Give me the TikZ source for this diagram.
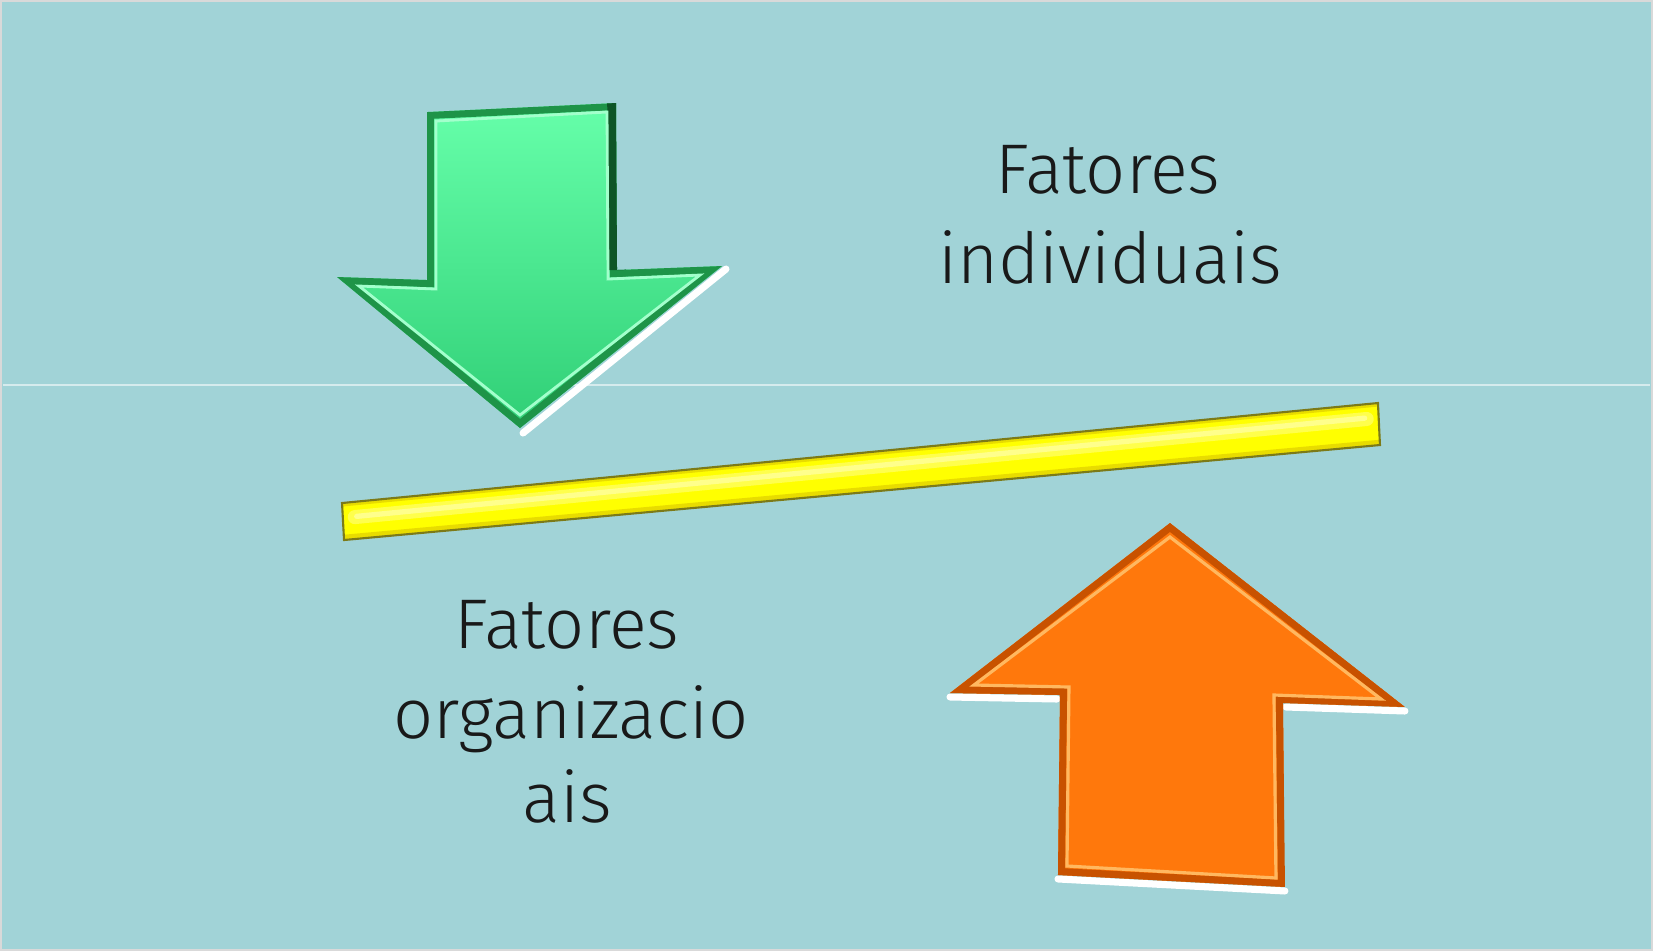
\documentclass[tikz,border=0pt]{standalone}
\usepackage{fontspec}
\setmainfont{Fira Sans}[UprightFont={* Light}]
\usetikzlibrary{positioning,calc}

\definecolor{bgteal}{HTML}{A1D3D7}
\definecolor{greentop}{HTML}{66FFAA}
\definecolor{greenbot}{HTML}{30CF76}
\definecolor{greenedge}{HTML}{1E9448}
\definecolor{greendark}{HTML}{0E5526}
\definecolor{orangefill}{HTML}{FF780C}
\definecolor{orangeedge}{HTML}{C85200}
\definecolor{orangelight}{HTML}{FFB860}
\definecolor{barfill}{HTML}{FFFF00}
\definecolor{bardeep}{HTML}{E8DC00}
\definecolor{baredge}{HTML}{7C7A18}

\begin{document}
\begin{tikzpicture}[x=0.01cm,y=-0.01cm,
    every node/.style = {inner sep=0pt,outer sep=0pt},
    labeltext/.style = {anchor=base,font=\fontsize{20}{24}\selectfont,text=black!90},
    bevel/.style = {line join=miter,line width=4pt},
    glint/.style = {white,line width=1.2pt,line cap=round},
    ]
    % background
    \fill[bgteal] (0,0) rectangle (1653,951);
    \draw[white!70!gray,line width=0.6pt] (1,1) rectangle (1652,950);
    \draw[white!55!bgteal,line width=0.5pt] (3,385) -- (1650,385);
    \useasboundingbox (0,0) rectangle (1653,951);

    % green arrow (down)
    \coordinate (g-tl) at (427,112);
    \coordinate (g-tr) at (616,103);
    \coordinate (g-sr) at (617,270);
    \coordinate (g-hr) at (722,266);
    \coordinate (g-tip) at (520,428);
    \coordinate (g-hl) at (337,277);
    \coordinate (g-sl) at (427,280);
    \draw[glint,line width=2pt] ($(g-hr)+(4,3)$) -- ($(g-tip)+(3,5)$);
    \begin{scope}
        \clip (g-tl) -- (g-tr) -- (g-sr) -- (g-hr) -- (g-tip) -- (g-hl) -- (g-sl) -- cycle;
        \shade[top color=greentop,bottom color=greenbot]
            (g-tl) -- (g-tr) -- (g-sr) -- (g-hr) -- (g-tip) -- (g-hl) -- (g-sl) -- cycle;
        \draw[bevel,greenedge]
            (g-tl) -- (g-tr) -- (g-sr) -- (g-hr) -- (g-tip) -- (g-hl) -- (g-sl) -- cycle;
        \draw[bevel,greendark,line width=5pt] (g-tr) -- (g-sr);
        \draw[greentop!60!white,line width=0.8pt,line join=miter]
            ($(g-tl)+(9,9)$) -- ($(g-tr)+(-9,9)$) -- ($(g-sr)+(-9,9)$) -- ($(g-hr)+(-22,9)$)
            -- ($(g-tip)+(0,-13)$) -- ($(g-hl)+(22,9)$) -- ($(g-sl)+(9,9)$) -- cycle;
    \end{scope}

    % yellow bar
    \coordinate (b-tl) at (342,503);
    \coordinate (b-tr) at (1378,403);
    \coordinate (b-br) at (1380,445);
    \coordinate (b-bl) at (344,540);
    \begin{scope}
        \clip (b-tl) -- (b-tr) -- (b-br) -- (b-bl) -- cycle;
        \fill[barfill] (b-tl) -- (b-tr) -- (b-br) -- (b-bl) -- cycle;
        \draw[bardeep,line width=3pt] (b-bl) -- (b-br);
        \draw[bardeep,line width=2pt] (b-tl) -- (b-tr);
        \draw[barfill!70!white,line width=4pt,line cap=round]
            ($(b-tl)!0.38!(b-bl)+(12,0)$) -- ($(b-tr)!0.38!(b-br)+(-12,0)$);
        \draw[barfill!45!white,line width=1.5pt,line cap=round]
            ($(b-tl)!0.36!(b-bl)+(14,0)$) -- ($(b-tr)!0.36!(b-br)+(-14,0)$);
    \end{scope}
    \draw[baredge,line width=0.6pt,line join=miter] (b-tl) -- (b-tr) -- (b-br) -- (b-bl) -- cycle;

    % orange arrow (up)
    \coordinate (o-tip) at (1170,523);
    \coordinate (o-hr) at (1405,707);
    \coordinate (o-sr) at (1283,703);
    \coordinate (o-br) at (1285,887);
    \coordinate (o-bl) at (1058,875);
    \coordinate (o-sl) at (1060,695);
    \coordinate (o-hl) at (950,693);
    \draw[glint,line width=2pt] ($(o-hl)+(0,4)$) -- ($(o-sl)+(-3,4)$);
    \draw[glint,line width=2pt] ($(o-sr)+(3,4)$) -- ($(o-hr)+(0,4)$);
    \draw[glint,line width=2pt] ($(o-bl)+(0,4)$) -- ($(o-br)+(0,4)$);
    \begin{scope}
        \clip (o-tip) -- (o-hr) -- (o-sr) -- (o-br) -- (o-bl) -- (o-sl) -- (o-hl) -- cycle;
        \fill[orangefill] (o-tip) -- (o-hr) -- (o-sr) -- (o-br) -- (o-bl) -- (o-sl) -- (o-hl) -- cycle;
        \draw[bevel,orangeedge]
            (o-tip) -- (o-hr) -- (o-sr) -- (o-br) -- (o-bl) -- (o-sl) -- (o-hl) -- cycle;
        \draw[orangelight,line width=0.9pt,line join=miter]
            ($(o-tip)+(0,14)$) -- ($(o-hr)+(-24,-8)$) -- ($(o-sr)+(-9,-8)$) -- ($(o-br)+(-9,-9)$)
            -- ($(o-bl)+(9,-9)$) -- ($(o-sl)+(9,-8)$) -- ($(o-hl)+(24,-8)$) -- cycle;
    \end{scope}

    % labels
    \node[labeltext] (ind-a) at (1108,193) {Fatores};
    \node[labeltext] (ind-b) at (1110,283) {individuais};
    \node[labeltext] (org-a) at (567,648) {Fatores};
    \node[labeltext] (org-b) at (571,738) {organizacio};
    \node[labeltext] (org-c) at (567,822) {ais};
\end{tikzpicture}
\end{document}
